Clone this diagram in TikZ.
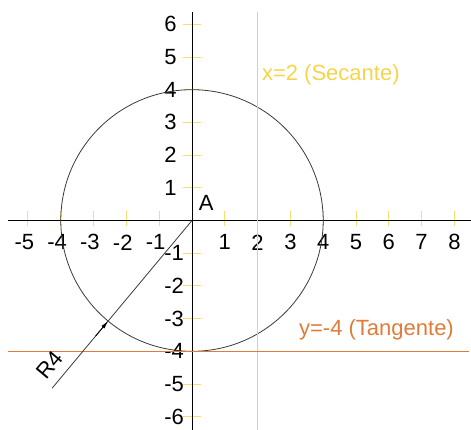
\documentclass[tikz,border=0pt]{standalone}
\usepackage{fontspec}
\setmainfont{Liberation Sans}
\usetikzlibrary{arrows.meta}
\definecolor{GeoYellow}{HTML}{F6D44C}
\definecolor{GeoOrange}{HTML}{E07B39}
\definecolor{GeoGray}{HTML}{3A3A3A}

\begin{document}
\begin{tikzpicture}[x=32.8pt,y=32.7pt,font=\fontsize{22}{26}\selectfont,
  axis/.style={draw=black,line width=1pt},
  tickmark/.style={draw=GeoYellow!80,line width=1pt},
  num/.style={inner sep=0pt},
  secline/.style={draw=GeoYellow,line width=1.2pt},
  tanline/.style={draw=GeoOrange,line width=1.2pt}]
  \useasboundingbox (-192pt,-208.5pt) rectangle (279pt,220.5pt);
  \coordinate (A) at (0,0);
  \coordinate (xl) at (-5.61,0);
  \coordinate (xr) at (8.5,0);
  \coordinate (yt) at (0,6.39);
  \coordinate (yb) at (0,-6.4);
  \coordinate (sec top) at (2,6.39);
  \coordinate (sec bot) at (2,-6.4);
  \coordinate (tan left) at (-5.61,-4);
  \coordinate (tan right) at (8.45,-4);
  \coordinate (Rend) at (230.25:6.67);
  \coordinate (Rtail) at (230.25:4.6);
  \coordinate (Rtip) at (230.25:4);
  % ticks and numbers
  \foreach \x in {-5,...,-1,1,2,...,8}
    \draw[tickmark] (\x,-0.18) -- (\x,0.3);
  \foreach \y in {-6,...,-1,1,2,...,6}
    \draw[tickmark] (-0.27,\y) -- (0.27,\y);
  \foreach \x in {1,...,8}
    \node[num] at (\x,-0.67) {\x};
  \foreach \x in {1,...,5}
    \node[num] at (-\x,-0.67) {\llap{-}\x};
  \foreach \y in {-6,...,-1,1,2,...,6}
    \node[num,anchor=west] at (-0.85,\y) {\y};
  % axes
  \draw[axis] (xl) -- (xr);
  \draw[axis] (yb) -- (yt);
  % circle and lines
  \draw[GeoGray,line width=0.8pt] (A) circle[radius=4];
  \draw[secline] (sec bot) -- (sec top);
  \draw[tanline] (tan left) -- (tan right);
  \draw[GeoGray,line width=0.8pt] (A) -- (Rend);
  \draw[-{Latex[length=8pt,width=4pt]},black,line width=0.8pt] (Rtail) -- (Rtip);
  \node[num] (a) at (0.43,0.53) {A};
  \node[num,rotate=50] (r4) at (-4.33,-4.42) {R4};
  \node[num,anchor=west,text=GeoYellow] (sec) at (2.13,4.47) {x=2 (Secante)};
  \node[num,anchor=west,text=GeoOrange] (tan) at (3.26,-3.34) {y=-4 (Tangente)};
\end{tikzpicture}
\end{document}
